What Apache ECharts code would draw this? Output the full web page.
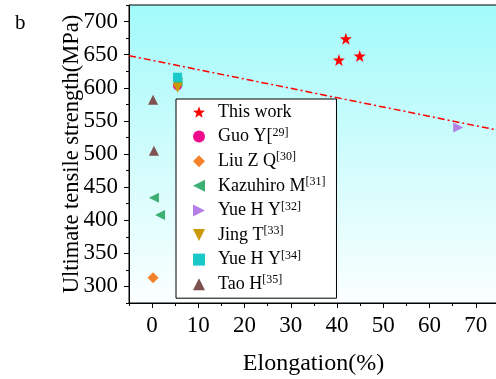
<!DOCTYPE html>
<html>
<head>
<meta charset="utf-8">
<script src="https://cdn.jsdelivr.net/npm/echarts@6/dist/echarts.min.js"></script>
<style>
    html, body { margin: 0; padding: 0; background: #fff; }
    #main { width: 496px; height: 379px; }
</style>
</head>
<body>
<div id="main"></div>
<script>
// data
var thisWork = [[40.4, 642], [41.9, 674], [44.9, 648]];
var guoY = [[5.5, 603]];
var liuZQ = [[0.2, 313]];
var kazuhiroM = [[0.4, 434], [1.7, 408], [5.5, 609]];
var yueHY32 = [[66.2, 540]];
var jingT = [[5.5, 600]];
var yueHY34 = [[5.5, 616]];
var taoH = [[0.2, 582], [0.4, 505]];
var trendLine = [[-5, 648.5], [80, 528.6]];

var xMajor = [0, 10, 20, 30, 40, 50, 60, 70];
var xMinor = [-5, 5, 15, 25, 35, 45, 55, 65, 75];
var yMajor = [300, 350, 400, 450, 500, 550, 600, 650, 700];
var yMinor = [275, 325, 375, 425, 475, 525, 575, 625, 675, 725];

var seriesNames = ['This work', 'Guo Y[29]', 'Liu Z Q[30]', 'Kazuhiro M[31]',
    'Yue H Y[32]', 'Jing T[33]', 'Yue H Y[34]', 'Tao H[35]'];
var legendLabels = {
    'This work': 'This work',
    'Guo Y[29]': 'Guo Y[{sup|29]}',
    'Liu Z Q[30]': 'Liu Z Q{sup|[30]}',
    'Kazuhiro M[31]': 'Kazuhiro M{sup|[31]}',
    'Yue H Y[32]': 'Yue H Y{sup|[32]}',
    'Jing T[33]': 'Jing T{sup|[33]}',
    'Yue H Y[34]': 'Yue H Y{sup|[34]}',
    'Tao H[35]': 'Tao H{sup|[35]}'
};

var font = "'Liberation Serif', 'Times New Roman', serif";
// symbols
var star = 'path://M0,-10L2.35,-3.24L9.51,-3.09L3.8,1.24L5.88,8.09L0,4L-5.88,8.09L-3.8,1.24L-9.51,-3.09L-2.35,-3.24Z';
var triLeft = 'path://M0,5L10,0L10,10Z';
var triRight = 'path://M0,0L10,5L0,10Z';
var triDown = 'path://M0,0L10,0L5,10Z';

function scatter(name, data, symbol, color, size) {
    return {
        name: name,
        type: 'scatter',
        data: data,
        symbol: symbol,
        symbolSize: size,
        itemStyle: {color: color, opacity: 1},
        z: 3
    };
}

var chart = echarts.init(document.getElementById('main'));

var option = {
    animation: false,
    textStyle: {fontFamily: font},
    graphic: [
        {type: 'text', left: 15, top: 13, style: {text: 'b', font: '21px ' + font, fill: '#000'}}
    ],
    grid: {
        left: 129, top: 5, width: 393, bottom: 76,
        outerBoundsMode: 'none',
        containLabel: false,
        show: true,
        borderColor: '#000',
        borderWidth: 1,
        backgroundColor: {
            type: 'linear', x: 0, y: 0, x2: 0, y2: 1,
            colorStops: [
                {offset: 0, color: '#a2fafa'},
                {offset: 0.5, color: '#d0fcfc'},
                {offset: 1, color: '#fbffff'}
            ]
        }
    },
    legend: {
        data: seriesNames,
        orient: 'vertical',
        left: 176, top: 99,
        padding: [3, 11, 4, 17],
        itemWidth: 12,
        itemHeight: 12,
        itemGap: 4.6,
        backgroundColor: '#fff',
        borderColor: '#000',
        borderWidth: 1,
        borderRadius: 0,
        formatter: function (name) {
            return legendLabels[name];
        },
        textStyle: {
            fontFamily: font, fontSize: 18, color: '#000', lineHeight: 20,
            padding: [0, 0, 0, 8],
            rich: {
                sup: {fontFamily: font, fontSize: 12, color: '#000', verticalAlign: 'bottom', padding: [0, 0, 8, 0]}
            }
        }
    },
    xAxis: [
        {
            type: 'value', min: -5, max: 80,
            name: 'Elongation(%)', nameLocation: 'middle', nameGap: 49,
            nameMoveOverlap: false,
            nameTextStyle: {fontFamily: font, fontSize: 24, color: '#000', padding: [0, 24, 0, 0]},
            axisLine: {show: true, onZero: false, lineStyle: {color: '#000', width: 1}},
            axisTick: {show: true, inside: false, length: 5, customValues: xMajor, lineStyle: {color: '#000'}},
            axisLabel: {customValues: xMajor, fontFamily: font, fontSize: 23, color: '#000', margin: 11},
            splitLine: {show: false}
        },
        {
            type: 'value', min: -5, max: 80, position: 'bottom',
            axisLine: {show: false, onZero: false},
            axisTick: {show: true, length: 3, customValues: xMinor, lineStyle: {color: '#000'}},
            axisLabel: {show: false},
            splitLine: {show: false}
        }
    ],
    yAxis: [
        {
            type: 'value', min: 275, max: 725,
            name: 'Ultimate tensile strength(MPa)', nameLocation: 'middle', nameGap: 45,
            nameMoveOverlap: false,
            nameTextStyle: {fontFamily: font, fontSize: 22.5, color: '#000'},
            axisLine: {show: true, onZero: false, lineStyle: {color: '#000', width: 1}},
            axisTick: {show: true, length: 5, customValues: yMajor, lineStyle: {color: '#000'}},
            axisLabel: {customValues: yMajor, fontFamily: font, fontSize: 23, color: '#000', margin: 11},
            splitLine: {show: false}
        },
        {
            type: 'value', min: 275, max: 725, position: 'left',
            axisLine: {show: false, onZero: false},
            axisTick: {show: true, length: 3, customValues: yMinor, lineStyle: {color: '#000'}},
            axisLabel: {show: false},
            splitLine: {show: false}
        }
    ],
    series: [
        {
            name: 'trend',
            type: 'line',
            data: trendLine,
            symbol: 'none',
            lineStyle: {color: '#ff0000', width: 1.5, type: [7, 3, 2, 3]},
            z: 2
        },
        scatter('This work', thisWork, star, '#ff0000', 12),
        scatter('Guo Y[29]', guoY, 'circle', '#ee0a8c', 9),
        scatter('Liu Z Q[30]', liuZQ, 'diamond', '#f5822a', 11),
        scatter('Kazuhiro M[31]', kazuhiroM, triLeft, '#3cb073', 10),
        scatter('Jing T[33]', jingT, triDown, '#cc9a08', 10),
        scatter('Yue H Y[32]', yueHY32, triRight, '#b57fe6', 10),
        scatter('Yue H Y[34]', yueHY34, 'rect', '#19c8c8', 9),
        scatter('Tao H[35]', taoH, 'triangle', '#7d5150', 10)
    ]
};

chart.setOption(option);
</script>
</body>
</html>
